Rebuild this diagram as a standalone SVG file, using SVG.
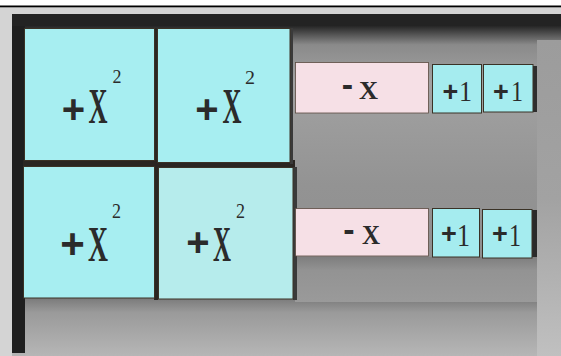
<svg xmlns="http://www.w3.org/2000/svg" width="561" height="356" viewBox="0 0 561 356">
  <defs>
    <linearGradient id="bgv" x1="0" y1="0" x2="0" y2="1">
      <stop offset="0" stop-color="#1e1e1e"/>
      <stop offset="0.035" stop-color="#262626"/>
      <stop offset="0.09" stop-color="#8a8a8a"/>
      <stop offset="0.2" stop-color="#a2a2a2"/>
      <stop offset="0.5" stop-color="#939393"/>
      <stop offset="0.78" stop-color="#8e8e8e"/>
      <stop offset="1" stop-color="#b4b4b4"/>
    </linearGradient>
    <linearGradient id="rightStrip" x1="0" y1="0" x2="0" y2="1">
      <stop offset="0" stop-color="#9c9c9c"/>
      <stop offset="0.5" stop-color="#a2a2a2"/>
      <stop offset="1" stop-color="#c0c0c0"/>
    </linearGradient>
    <linearGradient id="under" x1="0" y1="0" x2="0" y2="1">
      <stop offset="0" stop-color="#7a7a7a"/>
      <stop offset="0.25" stop-color="#9a9a9a"/>
      <stop offset="1" stop-color="#b6b6b6"/>
    </linearGradient>
    <linearGradient id="under2" x1="0" y1="0" x2="0" y2="1">
      <stop offset="0" stop-color="#7e7e7e"/>
      <stop offset="0.3" stop-color="#939393"/>
      <stop offset="1" stop-color="#9a9a9a"/>
    </linearGradient>
  </defs>
  <style>
    .sq { fill: #a7eef1; stroke: #3a3226; stroke-width: 1; }
    .sq2 { fill: #b6ecec; stroke: #3a3226; stroke-width: 1; }
    .neg { fill: #f6e0e6; stroke: #5a4a40; stroke-width: 0.8; }
    .one { fill: #a5ecef; stroke: #3a3226; stroke-width: 1; }
    .plus { font-family: "Liberation Sans", Arial, sans-serif; font-weight: bold; fill: #2b2b2b; text-anchor: middle; }
    .ser { font-family: "Liberation Serif", "Times New Roman", serif; fill: #2b2b2b; }
    .bx { font-family: "Liberation Serif", "Times New Roman", serif; font-weight: bold; fill: #2b2b2b; }
  </style>

  <!-- background scene -->
  <rect x="0" y="0" width="561" height="356" fill="#ffffff"/>
  <rect x="0" y="7" width="561" height="349" fill="#d4d4d4"/>
  <rect x="0" y="5.5" width="561" height="1.8" fill="#000000"/>
  <rect x="12" y="14" width="549" height="342" fill="url(#bgv)"/>
  <rect x="537" y="40" width="24" height="316" fill="url(#rightStrip)"/>
  <rect x="25" y="298" width="512" height="58" fill="url(#under)"/>
  <rect x="295" y="257" width="242" height="45" fill="url(#under2)"/>
  <rect x="12" y="14" width="13" height="339" fill="#1f1f1f"/>
  <rect x="12" y="14" width="549" height="12" fill="#232323"/>
  <!-- row gap / shadows -->
  <rect x="23" y="160" width="272" height="7" fill="#2a2622"/>
  <rect x="154" y="28" width="4" height="272" fill="#2a2622"/>
  <rect x="290" y="28" width="3" height="136" fill="#3a3a3a"/>
  <rect x="293" y="167" width="4" height="133" fill="#3a3a3a"/>
  <rect x="532" y="66" width="5" height="46" fill="#2e2e2e"/>
  <rect x="531" y="210" width="6" height="47" fill="#2a2a2a"/>

  <g id="tile-x2-1">
    <rect class="sq" x="24.5" y="28.5" width="130" height="132"/>
    <text class="plus" x="73.5" y="123" font-size="40">+</text>
    <text class="bx" x="88.5" y="123" font-size="50" textLength="19" lengthAdjust="spacingAndGlyphs">X</text>
    <text class="ser" x="112.5" y="83" font-size="18" textLength="9" lengthAdjust="spacingAndGlyphs">2</text>
  </g>
  <g id="tile-x2-2">
    <rect class="sq" x="157.5" y="28.5" width="132.5" height="134"/>
    <text class="plus" x="207" y="123" font-size="40">+</text>
    <text class="bx" x="222.5" y="123" font-size="50" textLength="19" lengthAdjust="spacingAndGlyphs">X</text>
    <text class="ser" x="245" y="84" font-size="19" textLength="10" lengthAdjust="spacingAndGlyphs">2</text>
  </g>
  <g id="tile-x2-3">
    <rect class="sq" x="23.5" y="166.5" width="131" height="131.5"/>
    <text class="plus" x="72.5" y="258" font-size="42">+</text>
    <text class="bx" x="88" y="261" font-size="50" textLength="20" lengthAdjust="spacingAndGlyphs">X</text>
    <text class="ser" x="112" y="218" font-size="21" textLength="9" lengthAdjust="spacingAndGlyphs">2</text>
  </g>
  <g id="tile-x2-4">
    <rect class="sq2" x="158.5" y="167.5" width="134.5" height="131.5"/>
    <text class="plus" x="198" y="256" font-size="40">+</text>
    <text class="bx" x="213" y="261" font-size="50" textLength="18" lengthAdjust="spacingAndGlyphs">X</text>
    <text class="ser" x="236" y="218" font-size="21" textLength="9" lengthAdjust="spacingAndGlyphs">2</text>
  </g>

  <g id="tile-negx-1">
    <rect class="neg" x="295.5" y="62.5" width="133" height="50.5"/>
    <text class="plus" x="347.5" y="95.5" font-size="34">-</text>
    <text class="bx" x="359" y="99" font-size="26" textLength="19" lengthAdjust="spacingAndGlyphs">X</text>
  </g>
  <g id="tile-one-1">
    <rect class="one" x="432.5" y="64.5" width="49" height="48.5"/>
    <text class="plus" x="450.5" y="100.5" font-size="27">+</text>
    <text class="ser" x="459" y="101" font-size="30" textLength="13" lengthAdjust="spacingAndGlyphs">1</text>
  </g>
  <g id="tile-one-2">
    <rect class="one" x="483.5" y="64.5" width="49.5" height="47.5"/>
    <text class="plus" x="501" y="100.5" font-size="27">+</text>
    <text class="ser" x="511" y="101" font-size="30" textLength="12" lengthAdjust="spacingAndGlyphs">1</text>
  </g>

  <g id="tile-negx-2">
    <rect class="neg" x="295.5" y="208.5" width="133" height="47.5"/>
    <text class="plus" x="349" y="240.5" font-size="34">-</text>
    <text class="bx" x="362" y="244" font-size="27" textLength="18" lengthAdjust="spacingAndGlyphs">X</text>
  </g>
  <g id="tile-one-3">
    <rect class="one" x="432.5" y="208.5" width="47" height="48.5"/>
    <text class="plus" x="449" y="243" font-size="27">+</text>
    <text class="ser" x="457" y="246" font-size="32" textLength="13" lengthAdjust="spacingAndGlyphs">1</text>
  </g>
  <g id="tile-one-4">
    <rect class="one" x="482.5" y="209.5" width="49.5" height="48.5"/>
    <text class="plus" x="500" y="243" font-size="27">+</text>
    <text class="ser" x="509" y="246" font-size="32" textLength="12" lengthAdjust="spacingAndGlyphs">1</text>
  </g>
</svg>
